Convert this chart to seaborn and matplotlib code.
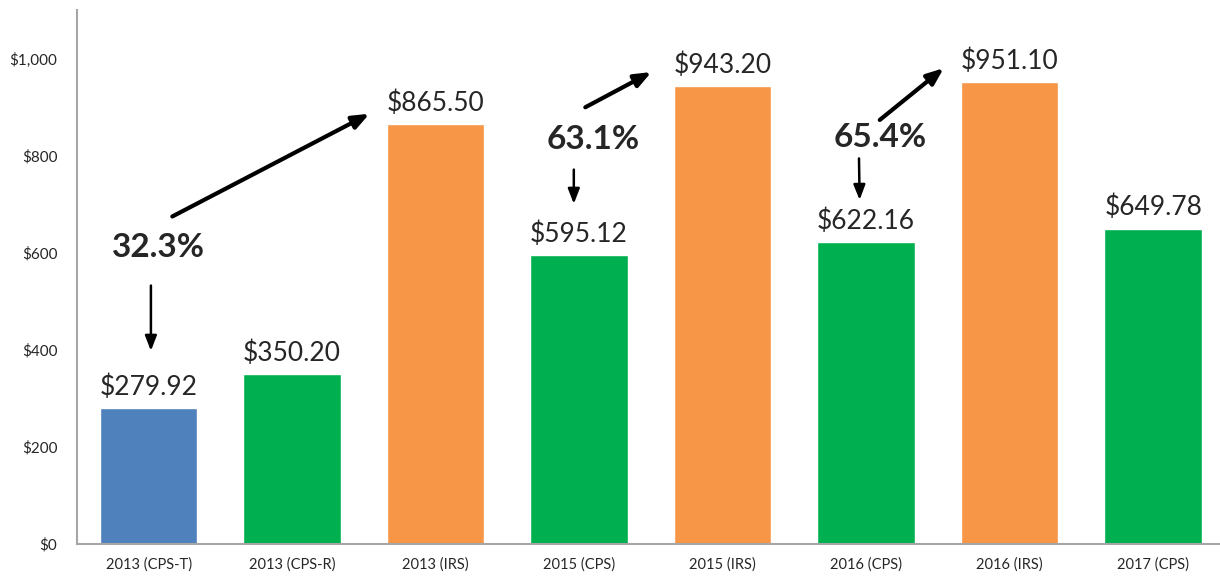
import matplotlib
matplotlib.use("Agg")
import matplotlib.pyplot as plt
import seaborn as sns
import pandas as pd
from matplotlib.ticker import FuncFormatter

categories = ["2013 (CPS-T)", "2013 (CPS-R)", "2013 (IRS)", "2015 (CPS)",
              "2015 (IRS)", "2016 (CPS)", "2016 (IRS)", "2017 (CPS)"]
values = [279.92, 350.20, 865.50, 595.12, 943.20, 622.16, 951.10, 649.78]
bar_colors = ["#4F81BD", "#00B050", "#F79646", "#00B050",
              "#F79646", "#00B050", "#F79646", "#00B050"]
pct_labels = ["32.3%", "63.1%", "65.4%"]

df = pd.DataFrame({"cat": categories, "val": values})

sns.set_style("white")
plt.rcParams["font.family"] = ["Lato", "DejaVu Sans"]

fig = plt.figure(figsize=(12.2, 5.77), dpi=100)
ax = fig.add_axes([0.063, 0.0575, 0.941, 0.925])

sns.barplot(data=df, x="cat", y="val", hue="cat", palette=bar_colors,
            width=0.68, legend=False, ax=ax, saturation=1)

ax.set_ylim(0, 1100)
ax.set_xlim(-0.5, 7.5)
ax.set_yticks([0, 200, 400, 600, 800, 1000])
ax.yaxis.set_major_formatter(FuncFormatter(lambda v, p: f"${v:,.0f}"))
ax.tick_params(axis="y", labelsize=11, length=0, pad=14)
ax.tick_params(axis="x", labelsize=10.5, length=0, pad=10)
ax.set_xlabel("")
ax.set_ylabel("")
for s in ["top", "right"]:
    ax.spines[s].set_visible(False)
for s in ["left", "bottom"]:
    ax.spines[s].set_color("#A6A6A6")
    ax.spines[s].set_linewidth(1.5)

for i, v in enumerate(values):
    ax.annotate(f"${v:,.2f}", (i, v), xytext=(0, 6), textcoords="offset points",
                ha="center", va="bottom", fontsize=19)

# percentage callouts with arrows
pct_pos = [(0.07, 610), (3.10, 833), (5.10, 837)]
up_arrows = [((0.148, 672), (1.556, 889)),
             ((3.026, 897), (3.521, 975)),
             ((5.08, 870), (5.556, 984))]
down_arrows = [((0.016, 538), (0.016, 392)),
               ((2.963, 777), (2.963, 695)),
               ((4.95, 800), (4.955, 703))]

for lab, (x, y) in zip(pct_labels, pct_pos):
    ax.text(x, y, lab, ha="center", va="center", fontsize=24, fontweight="bold")
for (s, e) in up_arrows:
    ax.annotate("", xy=e, xytext=s, arrowprops=dict(
        arrowstyle="-|>,head_length=1.0,head_width=0.4", color="black", lw=3))
for (s, e) in down_arrows:
    ax.annotate("", xy=e, xytext=s, arrowprops=dict(
        arrowstyle="-|>,head_length=0.9,head_width=0.35", color="black", lw=1.8))

fig.savefig("out.png", dpi=100)
